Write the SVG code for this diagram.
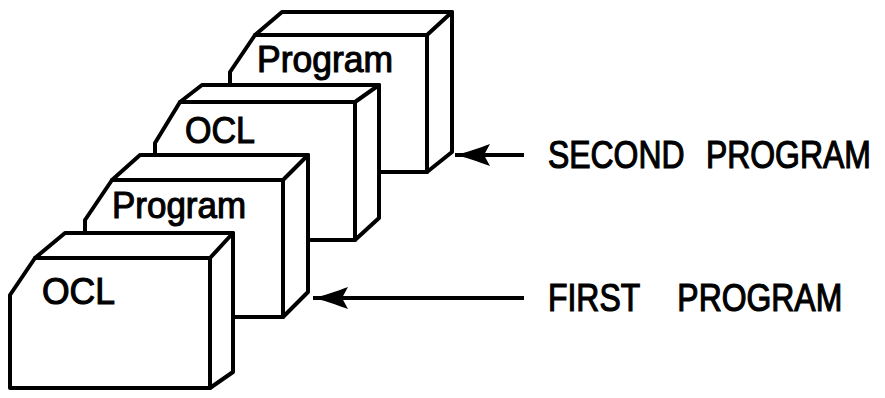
<svg xmlns="http://www.w3.org/2000/svg" width="885" height="398" viewBox="0 0 885 398">
  <style>
    .box path { fill: #fff; stroke: #000; stroke-width: 4; stroke-linejoin: round; stroke-linecap: round; }
    .box path.edge { fill: none; }
    .lbl { font-family: "Liberation Sans", Arial, sans-serif; font-size: 36px; fill: #000; stroke: #000; stroke-width: 1.1; }
    .cap { font-family: "Liberation Sans", Arial, sans-serif; font-size: 38px; fill: #000; stroke: #000; stroke-width: 1.2; }
    .conn line { stroke: #000; stroke-width: 4; }
  </style>
  <defs>
    <marker id="head" markerUnits="userSpaceOnUse" markerWidth="38" markerHeight="26" refX="0" refY="13" orient="auto" overflow="visible">
      <path d="M0,13 C10,11 24,6 35,2 L29,13 L35,24 C24,20 10,15 0,13 Z" fill="#000"/>
    </marker>
  </defs>

  <rect width="885" height="398" fill="#fff"/>

  <!-- back unit: Program (second program) -->
  <g id="program2" class="box">
    <path d="M230,172 V72 L255,35 L282,12 H452 V152 L427,172 Z"/>
    <path class="edge" d="M255,35 H427 L452,12 M427,35 V172"/>
    <text class="lbl" x="257" y="72" textLength="136" lengthAdjust="spacingAndGlyphs">Program</text>
  </g>

  <!-- OCL (second program) -->
  <g id="ocl2" class="box">
    <path d="M155,240 V143 L180,102 L202,85 H379 V218 L355,240 Z"/>
    <path class="edge" d="M180,102 H355 L379,85 M355,102 V240"/>
    <text class="lbl" x="185" y="143" textLength="70" lengthAdjust="spacingAndGlyphs">OCL</text>
  </g>

  <!-- Program (first program) -->
  <g id="program1" class="box">
    <path d="M85,317 V220 L112,180 L140,155 H308 V292 L283,317 Z"/>
    <path class="edge" d="M112,180 H283 L308,155 M283,180 V317"/>
    <text class="lbl" x="112" y="218" textLength="134" lengthAdjust="spacingAndGlyphs">Program</text>
  </g>

  <!-- front unit: OCL (first program) -->
  <g id="ocl1" class="box">
    <path d="M10,388 V295 L35,258 L65,233 H233 V372 L210,388 Z"/>
    <path class="edge" d="M35,258 H210 L233,233 M210,258 V388"/>
    <text class="lbl" x="42" y="304" textLength="73" lengthAdjust="spacingAndGlyphs">OCL</text>
  </g>

  <!-- pointer arrows -->
  <g id="connectors" class="conn">
    <line x1="455" y1="155" x2="524" y2="155" marker-start="url(#head)"/>
    <line x1="313" y1="298" x2="524" y2="298" marker-start="url(#head)"/>
  </g>

  <!-- captions: condensed lettering via horizontal scale -->
  <g id="captions">
    <text class="cap" transform="translate(548,168) scale(0.84,1)"><tspan x="0" y="0">SECOND</tspan><tspan x="188" y="0">PROGRAM</tspan></text>
    <text class="cap" transform="translate(548,311) scale(0.84,1)"><tspan x="0" y="0">FIRST</tspan><tspan x="154" y="0">PROGRAM</tspan></text>
  </g>
</svg>
